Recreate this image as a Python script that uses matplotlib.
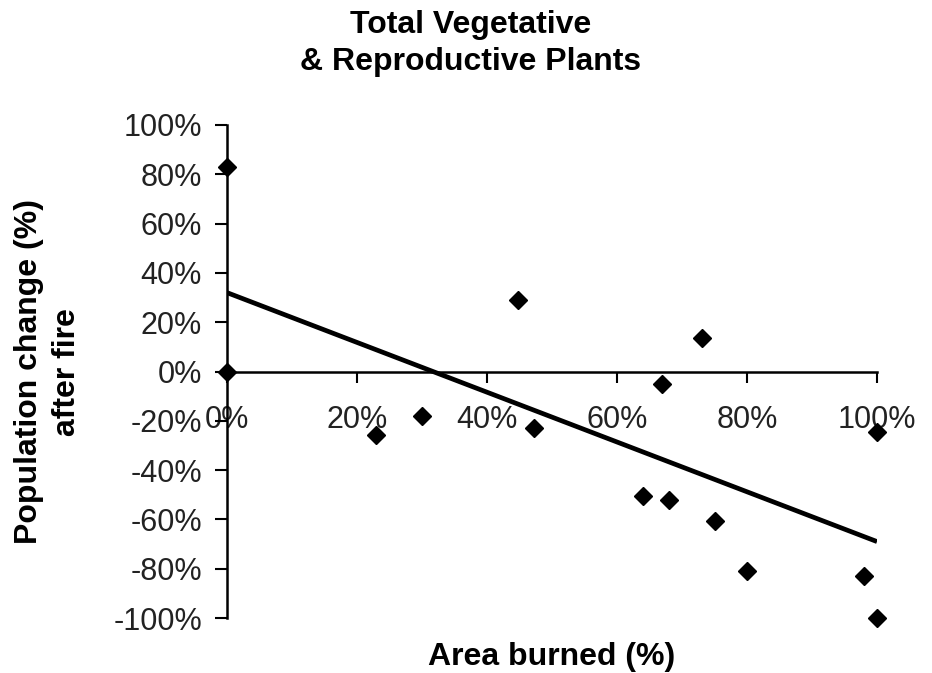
import matplotlib

matplotlib.use("Agg")
import matplotlib.pyplot as plt
from matplotlib.ticker import MultipleLocator, PercentFormatter

# values (percent)
area_burned = [0, 0, 22.9, 30, 47.2, 44.8, 73, 66.9, 100, 64, 68, 75, 80, 98, 100]
pop_change = [83, 0, -25.6, -18, -23, 29, 13.4, -4.9, -24.7, -50.7, -52.3, -60.6, -80.8, -82.8, -100]
trend_x = [0, 100]
trend_y = [32, -69]

plt.rcParams["font.family"] = ["Liberation Sans", "DejaVu Sans"]
plt.rcParams["axes.unicode_minus"] = False

fig = plt.figure(figsize=(9.32, 6.73), dpi=100)
ax = fig.add_axes([227 / 932, 1 - 618 / 673, 650 / 932, 493 / 673])

ax.plot(trend_x, trend_y, color="black", linewidth=3.4, solid_capstyle="butt", zorder=2)
ax.plot(area_burned, pop_change, linestyle="none", marker="D", markersize=9.5,
        color="black", clip_on=False, zorder=3)

ax.set_xlim(0, 100)
ax.set_ylim(-100, 100)
ax.xaxis.set_major_locator(MultipleLocator(20))
ax.yaxis.set_major_locator(MultipleLocator(20))
ax.xaxis.set_major_formatter(PercentFormatter(xmax=100, decimals=0))
ax.yaxis.set_major_formatter(PercentFormatter(xmax=100, decimals=0))

ax.spines["top"].set_visible(False)
ax.spines["right"].set_visible(False)
ax.spines["bottom"].set_position(("data", 0))
for side in ("left", "bottom"):
    ax.spines[side].set_linewidth(1.8)

ax.tick_params(axis="x", direction="out", length=8, width=1.5, pad=16,
               labelsize=22, colors="black")
ax.tick_params(axis="y", direction="out", length=9, width=1.5, pad=9,
               labelsize=22, colors="black")
for lab in ax.get_xticklabels() + ax.get_yticklabels():
    lab.set_color("#222222")

fig.text(471 / 932, 1 - 10 / 673, "Total Vegetative\n& Reproductive Plants",
         ha="center", va="top", fontsize=23, fontweight="bold", linespacing=1.3)
fig.text(552 / 932, 1 - 657 / 673, "Area burned (%)", ha="center", va="center",
         fontsize=23, fontweight="bold")
fig.text(48 / 932, 1 - 372 / 673, "Population change (%)\nafter fire", ha="center",
         va="center", rotation=90, multialignment="center", fontsize=23,
         fontweight="bold", linespacing=1.35)

fig.savefig("out.png", dpi=100, facecolor="white")
